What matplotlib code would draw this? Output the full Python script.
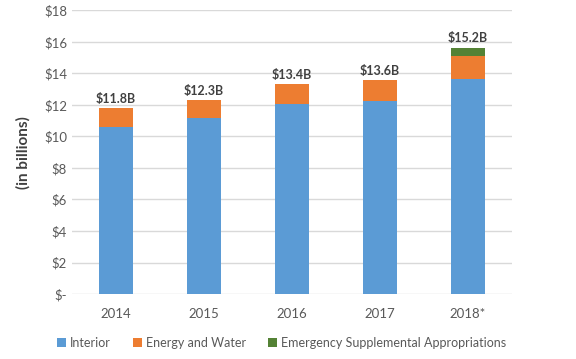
import matplotlib.pyplot as plt
import numpy as np

plt.rcParams['font.family'] = ['Lato', 'DejaVu Sans']

# values (in billions)
years = ['2014', '2015', '2016', '2017', '2018*']
interior = [10.58, 11.15, 12.08, 12.27, 13.65]
energy_water = [1.21, 1.15, 1.25, 1.32, 1.46]
emergency = [0, 0, 0, 0, 0.53]
totals_text = ['$11.8B', '$12.3B', '$13.4B', '$13.6B', '$15.2B']

fig = plt.figure(figsize=(5.76, 3.59), dpi=100)
ax = fig.add_axes([0.125, 0.181, 0.764, 0.79])

x = np.arange(len(years))
w = 0.39
ax.bar(x, interior, w, color='#5B9BD5', label='Interior', zorder=3)
ax.bar(x, energy_water, w, bottom=interior, color='#ED7D31', label='Energy and Water', zorder=3)
bottom2 = np.array(interior) + np.array(energy_water)
ax.bar(x, emergency, w, bottom=bottom2, color='#548235',
       label='Emergency Supplemental Appropriations', zorder=3)

tops = bottom2 + np.array(emergency)
for xi, top, txt in zip(x, tops, totals_text):
    ax.text(xi, top + 0.2, txt, ha='center', va='bottom', fontsize=9,
            fontweight='bold', color='#404040')

ax.set_xlim(-0.5, len(years) - 0.5)
ax.set_ylim(0, 18)
yt = np.arange(0, 19, 2)
ax.set_yticks(yt)
ax.set_yticklabels(['$-'] + ['$%d' % v for v in yt[1:]])
ax.set_xticks(x)
ax.set_xticklabels(years)
ax.tick_params(length=0, labelsize=9.5, colors='#595959')
ax.tick_params(axis='x', pad=10)
ax.grid(axis='y', color='#D9D9D9', linewidth=1, zorder=0)
for s in ax.spines.values():
    s.set_visible(False)

ax.set_ylabel('(in billions)', fontsize=11, fontweight='bold', color='#404040', labelpad=10)

fig.legend(loc='center left', bbox_to_anchor=(0.08, 0.045), ncol=3, frameon=False,
           fontsize=9, handlelength=0.7, handleheight=0.7, handletextpad=0.3,
           columnspacing=1.8, labelcolor='#595959')

fig.savefig('out.png', dpi=100)
